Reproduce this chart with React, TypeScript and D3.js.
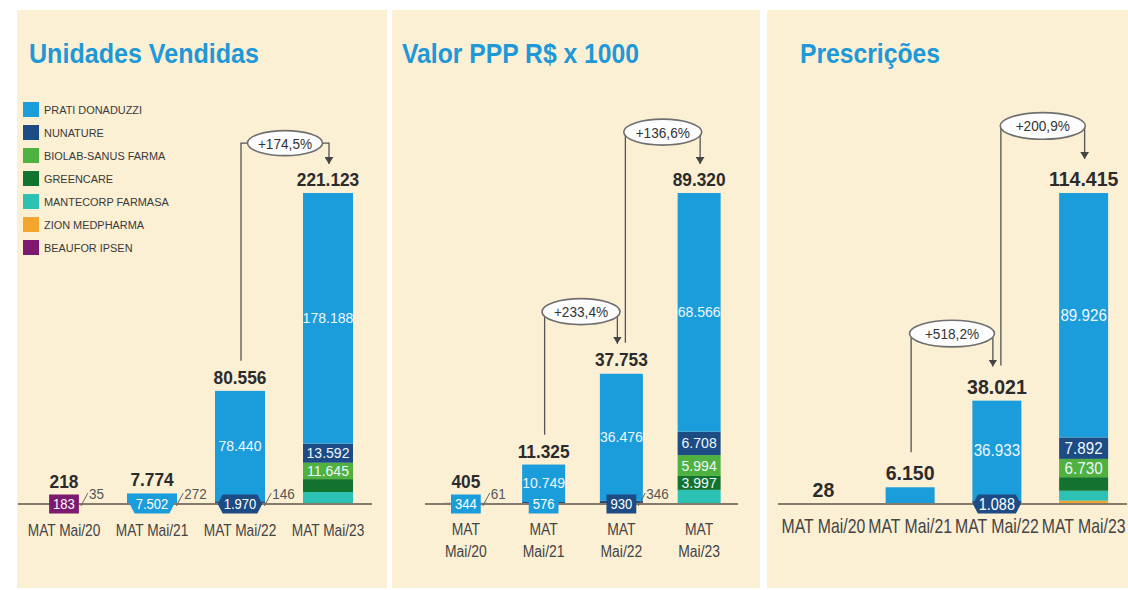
import React from "react";
import * as d3 from "d3";

const W = 1128;
const H = 590;
const FONT = "'Liberation Sans', Arial, Helvetica, sans-serif";

// ---------- DATA ----------
const categories = ["MAT Mai/20", "MAT Mai/21", "MAT Mai/22", "MAT Mai/23"];
const categoriesLine1 = ["MAT", "MAT", "MAT", "MAT"];
const categoriesLine2 = ["Mai/20", "Mai/21", "Mai/22", "Mai/23"];
const companies = [
  "PRATI DONADUZZI",
  "NUNATURE",
  "BIOLAB-SANUS FARMA",
  "GREENCARE",
  "MANTECORP FARMASA",
  "ZION MEDPHARMA",
  "BEAUFOR IPSEN",
];
const companyColors = ["#1b9ddb", "#1d4c84", "#4fb13f", "#12732f", "#2dc1b4", "#f3a52e", "#7d1a6f"];
const titles = ["Unidades Vendidas", "Valor PPP R$ x 1000", "Prescrições"];

// Unidades Vendidas
const unidadesPrati = [0, 7502, 78440, 178188];
const unidadesNunature = [0, 0, 1970, 13592];
const unidadesBiolab = [0, 0, 0, 11645];
const unidadesGreencare = [0, 0, 0, 9150];
const unidadesMantecorp = [0, 0, 0, 8500];
const unidadesZion = [0, 0, 0, 48];
const unidadesBeaufor = [183, 0, 0, 0];
const unidadesOutros = [35, 272, 146, 0];
const unidadesTotais = [218, 7774, 80556, 221123];
const unidadesCrescimento = [{ from: 2, to: 3, label: "+174,5%" }];

// Valor PPP R$ x 1000
const valorPrati = [344, 10749, 36476, 68566];
const valorNunature = [0, 576, 930, 6708];
const valorBiolab = [0, 0, 0, 5994];
const valorGreencare = [0, 0, 0, 3997];
const valorMantecorp = [0, 0, 0, 4020];
const valorZion = [0, 0, 0, 35];
const valorBeaufor = [0, 0, 0, 0];
const valorOutros = [61, 0, 346, 0];
const valorTotais = [405, 11325, 37753, 89320];
const valorCrescimento = [
  { from: 1, to: 2, label: "+233,4%" },
  { from: 2, to: 3, label: "+136,6%" },
];

// Prescrições
const prescPrati = [28, 6150, 36933, 89926];
const prescNunature = [0, 0, 1088, 7892];
const prescBiolab = [0, 0, 0, 6730];
const prescGreencare = [0, 0, 0, 5000];
const prescMantecorp = [0, 0, 0, 3650];
const prescZion = [0, 0, 0, 1217];
const prescBeaufor = [0, 0, 0, 0];
const prescOutros = [0, 0, 0, 0];
const prescTotais = [28, 6150, 38021, 114415];
const prescCrescimento = [
  { from: 1, to: 2, label: "+518,2%" },
  { from: 2, to: 3, label: "+200,9%" },
];

// value label config: series index shown in a box on the baseline (-1 none), box colour series, hex shape
const unidadesBox = [6, 0, 1, -1];
const unidadesBoxColor = [6, 0, 1, -1];
const unidadesBoxHex = [false, true, true, false];
const unidadesInside: [number, number][] = [[2, 0], [3, 0], [3, 1], [3, 2]];

const valorBox = [0, 1, 1, -1];
const valorBoxColor = [0, 0, 1, -1];
const valorBoxHex = [false, false, false, false];
const valorInside: [number, number][] = [[1, 0], [2, 0], [3, 0], [3, 1], [3, 2], [3, 3]];

const prescBox = [-1, -1, 1, -1];
const prescBoxColor = [-1, -1, 1, -1];
const prescBoxHex = [false, false, true, false];
const prescInside: [number, number][] = [[2, 0], [3, 0], [3, 1], [3, 2]];

const panels = [
  {
    title: titles[0],
    series: [unidadesPrati, unidadesNunature, unidadesBiolab, unidadesGreencare, unidadesMantecorp, unidadesZion, unidadesBeaufor],
    others: unidadesOutros,
    totals: unidadesTotais,
    growth: unidadesCrescimento,
    box: unidadesBox,
    boxColor: unidadesBoxColor,
    boxHex: unidadesBoxHex,
    inside: unidadesInside,
  },
  {
    title: titles[1],
    series: [valorPrati, valorNunature, valorBiolab, valorGreencare, valorMantecorp, valorZion, valorBeaufor],
    others: valorOutros,
    totals: valorTotais,
    growth: valorCrescimento,
    box: valorBox,
    boxColor: valorBoxColor,
    boxHex: valorBoxHex,
    inside: valorInside,
  },
  {
    title: titles[2],
    series: [prescPrati, prescNunature, prescBiolab, prescGreencare, prescMantecorp, prescZion, prescBeaufor],
    others: prescOutros,
    totals: prescTotais,
    growth: prescCrescimento,
    box: prescBox,
    boxColor: prescBoxColor,
    boxHex: prescBoxHex,
    inside: prescInside,
  },
];

// ---------- LAYOUT ----------
const BASE = 504;
const TOP = 193;
const layouts = [
  { x0: 17, x1: 387, axis: [20, 372], barW: 50, titleX: 29, titleW: 230, catFont: 16.5, catSx: 0.83, twoLine: false, catY: 536,
    totFont: 18, totSx: 0.96, inFont: 14.5, inSx: 0.97, boxFont: 14.5, rise: 21, rx: 37.5, ry: 12.5, gap: 10 },
  { x0: 392, x1: 760, axis: [427, 738], barW: 43, titleX: 402, titleW: 237, catFont: 16, catSx: 0.87, twoLine: true, catY: 535,
    totFont: 18, totSx: 0.96, inFont: 14.5, inSx: 0.97, boxFont: 14.5, rise: 32, rx: 39, ry: 13, gap: 10 },
  { x0: 767, x1: 1128, axis: [780, 1127], barW: 49, titleX: 800, titleW: 140, catFont: 20, catSx: 0.79, twoLine: false, catY: 533,
    totFont: 21, totSx: 0.93, inFont: 16, inSx: 0.95, boxFont: 16, rise: 33, rx: 42.5, ry: 13.3, gap: 13 },
];

const fmt = (v: number) => d3.format(",")(v).replace(/,/g, ".");
const cw: Record<string, number> = { ".": 0.278, ",": 0.278, "%": 0.889, "+": 0.584 };
const estW = (s: string, size: number, sx: number) =>
  s.split("").reduce((a, c) => a + (cw[c] ?? 0.556), 0) * size * sx;

const T = ({ x, y, size, sx = 1, anchor = "middle", weight = "normal", fill = "#333", children }: any) => (
  <text
    transform={`translate(${x},${y}) scale(${sx},1)`}
    fontSize={size}
    fontWeight={weight}
    textAnchor={anchor}
    fill={fill}
    fontFamily={FONT}
  >
    {children}
  </text>
);

function PanelView({ p, L, idx }: any) {
  const x = d3.scalePoint<number>().domain(d3.range(categories.length)).range(L.axis).padding(0.5);
  const y = d3.scaleLinear().domain([0, d3.max(p.totals as number[]) as number]).range([BASE, TOP]);
  const rows = categories.map((_, i) => {
    const r: any = {};
    companies.forEach((c, j) => (r[c] = p.series[j][i]));
    return r;
  });
  const keys = [6, 5, 4, 3, 2, 1, 0].map((j) => companies[j]);
  const stacked = d3.stack<any>().keys(keys)(rows);
  const bw = L.barW;
  const boxH = 19;
  const capT = L.totFont * 0.716;

  const labelBase = (i: number) => {
    const top = y(p.totals[i]);
    const boxTop = p.box[i] >= 0 ? BASE - boxH / 2 : Infinity;
    return Math.min(top, boxTop) - 7;
  };

  const boxInfo = (i: number) => {
    const s = p.box[i];
    if (s < 0) return null;
    const txt = fmt(p.series[s][i]);
    const w = estW(txt, L.boxFont, 0.9) + (p.boxHex[i] ? 12 : 8);
    return { txt, w, fill: companyColors[p.boxColor[i]], hex: p.boxHex[i] };
  };

  // growth annotation x offsets
  const lineX = (i: number, role: "from" | "to") => {
    const cx = x(i) as number;
    const isFrom = p.growth.some((g: any) => g.from === i);
    const isTo = p.growth.some((g: any) => g.to === i);
    if (isFrom && isTo) return role === "to" ? cx - 4 : cx + 4;
    return cx + (role === "from" ? 1 : 1);
  };

  return (
    <g>
      <rect x={L.x0} y={10} width={L.x1 - L.x0} height={578} fill="#fbefd4" />
      <text
        x={L.titleX}
        y={63}
        fontSize={28}
        fontWeight="bold"
        fill="#1e98d6"
        fontFamily={FONT}
        textLength={L.titleW}
        lengthAdjust="spacingAndGlyphs"
      >
        {p.title}
      </text>

      {/* bars */}
      {stacked.map((layer) => {
        const j = companies.indexOf(layer.key);
        return layer.map((d, i) => {
          const y0 = y(d[0]);
          const y1 = y(d[1]);
          if (y0 - y1 <= 0) return null;
          return (
            <rect
              key={layer.key + i}
              x={(x(i) as number) - bw / 2}
              y={y1}
              width={bw}
              height={y0 - y1}
              fill={companyColors[j]}
            />
          );
        });
      })}

      {/* baseline */}
      <line x1={L.axis[0] - 2} x2={L.axis[1]} y1={BASE} y2={BASE} stroke="#857b6a" strokeWidth={2} />

      {/* inside labels */}
      {p.inside.map(([i, s]: [number, number]) => {
        const layer = stacked.find((l) => l.key === companies[s])!;
        const d = layer[i];
        const cy = (y(d[0]) + y(d[1])) / 2;
        return (
          <T key={"in" + i + s} x={x(i)} y={cy + L.inFont * 0.35} size={L.inFont} sx={L.inSx} fill="#eef7ff">
            {fmt(p.series[s][i])}
          </T>
        );
      })}

      {/* box labels and others leaders */}
      {categories.map((_, i) => {
        const b = boxInfo(i);
        const cx = x(i) as number;
        const out: any[] = [];
        let right = cx + bw / 2;
        if (b) {
          const l = cx - b.w / 2;
          const r = cx + b.w / 2;
          right = r;
          if (b.hex) {
            const pt = 5;
            out.push(
              <path
                key="bx"
                d={`M${l},${BASE} L${l + pt},${BASE - boxH / 2} L${r - pt},${BASE - boxH / 2} L${r},${BASE} L${r - pt},${BASE + boxH / 2} L${l + pt},${BASE + boxH / 2} Z`}
                fill={b.fill}
              />
            );
          } else {
            out.push(<rect key="bx" x={l} y={BASE - boxH / 2} width={b.w} height={boxH} fill={b.fill} />);
          }
          out.push(
            <T key="bt" x={cx} y={BASE + L.boxFont * 0.35} size={L.boxFont} sx={0.9} fill="#ffffff">
              {b.txt}
            </T>
          );
        }
        if (p.others[i] > 0) {
          out.push(<line key="sl" x1={right + 2} y1={506} x2={right + 9} y2={493} stroke="#666" strokeWidth={1} />);
          out.push(
            <T key="ot" x={right + 10} y={498.5} size={15} sx={0.9} anchor="start" fill="#555">
              {fmt(p.others[i])}
            </T>
          );
        }
        return <g key={"b" + i}>{out}</g>;
      })}

      {/* totals */}
      {p.totals.map((t: number, i: number) => (
        <T key={"t" + i} x={x(i)} y={labelBase(i)} size={L.totFont} sx={L.totSx} weight="bold" fill="#2b2b2b">
          {fmt(t)}
        </T>
      ))}

      {/* categories */}
      {categories.map((c, i) =>
        L.twoLine ? (
          <g key={"c" + i}>
            <T x={x(i)} y={L.catY} size={L.catFont} sx={L.catSx} fill="#444">
              {categoriesLine1[i]}
            </T>
            <T x={x(i)} y={L.catY + 21.5} size={L.catFont} sx={L.catSx} fill="#444">
              {categoriesLine2[i]}
            </T>
          </g>
        ) : (
          <T key={"c" + i} x={x(i)} y={L.catY} size={L.catFont} sx={L.catSx} fill="#444">
            {c}
          </T>
        )
      )}

      {/* growth annotations */}
      {p.growth.map((g: any, k: number) => {
        const fx = lineX(g.from, "from");
        const tx = lineX(g.to, "to");
        const fromTop = labelBase(g.from) - capT - L.gap;
        const tipY = labelBase(g.to) - capT - L.gap + 1;
        const ey = tipY - L.rise;
        const ex = (fx + tx) / 2;
        return (
          <g key={"g" + k}>
            <path d={`M${fx},${fromTop} V${ey} H${ex - L.rx}`} fill="none" stroke="#555" strokeWidth={1.3} />
            <path
              d={`M${ex + L.rx},${ey} H${tx} V${tipY}`}
              fill="none"
              stroke="#555"
              strokeWidth={1.3}
              markerEnd={`url(#arrow${idx})`}
            />
            <ellipse cx={ex} cy={ey} rx={L.rx} ry={L.ry} fill="#fdfdfd" stroke="#6f6f6f" strokeWidth={1.6} />
            <T x={ex} y={ey + 15.5 * 0.35} size={15.5} sx={0.88} fill="#333">
              {g.label}
            </T>
          </g>
        );
      })}
      <defs>
        <marker
          id={`arrow${idx}`}
          viewBox="0 0 8 10"
          refX={8}
          refY={5}
          markerWidth={7}
          markerHeight={9}
          markerUnits="userSpaceOnUse"
          orient="auto"
        >
          <path d="M0,0 L8,5 L0,10 Z" fill="#444" />
        </marker>
      </defs>
    </g>
  );
}

export default function App() {
  return (
    <svg width={W} height={H} style={{ position: "absolute", left: 0, top: 0, background: "#ffffff" }}>
      <rect x={0} y={0} width={W} height={H} fill="#ffffff" />
      {panels.map((p, i) => (
        <PanelView key={i} p={p} L={layouts[i]} idx={i} />
      ))}
      {/* legend */}
      {companies.map((c, j) => (
        <g key={c}>
          <rect x={23} y={102 + j * 23} width={16} height={15} fill={companyColors[j]} />
          <T x={44} y={113.5 + j * 23} size={11.5} sx={0.95} anchor="start" fill="#3a3a3a">
            {c}
          </T>
        </g>
      ))}
    </svg>
  );
}
